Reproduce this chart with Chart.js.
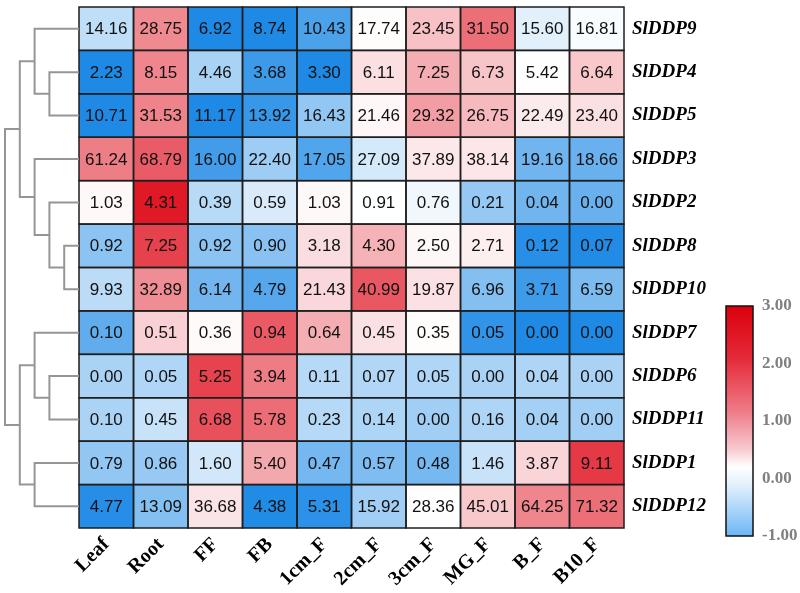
<!DOCTYPE html>
<html>
<head>
<meta charset="utf-8">
<script src="https://cdn.jsdelivr.net/npm/chart.js@4"></script>
<style>
  body { margin: 0; background: #fff; }
  canvas { display: block; }
</style>
</head>
<body>
<canvas id="heat" width="800" height="593"></canvas>
<script>
// gene rows (top to bottom) and tissue columns
var genes = ['SlDDP9', 'SlDDP4', 'SlDDP5', 'SlDDP3', 'SlDDP2', 'SlDDP8',
             'SlDDP10', 'SlDDP7', 'SlDDP6', 'SlDDP11', 'SlDDP1', 'SlDDP12'];
var tissues = ['Leaf', 'Root', 'FF', 'FB', '1cm_F', '2cm_F', '3cm_F', 'MG_F', 'B_F', 'B10_F'];

// expression values, one row per gene
var expr = [
  [14.16, 28.75, 6.92, 8.74, 10.43, 17.74, 23.45, 31.50, 15.60, 16.81],
  [2.23, 8.15, 4.46, 3.68, 3.30, 6.11, 7.25, 6.73, 5.42, 6.64],
  [10.71, 31.53, 11.17, 13.92, 16.43, 21.46, 29.32, 26.75, 22.49, 23.40],
  [61.24, 68.79, 16.00, 22.40, 17.05, 27.09, 37.89, 38.14, 19.16, 18.66],
  [1.03, 4.31, 0.39, 0.59, 1.03, 0.91, 0.76, 0.21, 0.04, 0.00],
  [0.92, 7.25, 0.92, 0.90, 3.18, 4.30, 2.50, 2.71, 0.12, 0.07],
  [9.93, 32.89, 6.14, 4.79, 21.43, 40.99, 19.87, 6.96, 3.71, 6.59],
  [0.10, 0.51, 0.36, 0.94, 0.64, 0.45, 0.35, 0.05, 0.00, 0.00],
  [0.00, 0.05, 5.25, 3.94, 0.11, 0.07, 0.05, 0.00, 0.04, 0.00],
  [0.10, 0.45, 6.68, 5.78, 0.23, 0.14, 0.00, 0.16, 0.04, 0.00],
  [0.79, 0.86, 1.60, 5.40, 0.47, 0.57, 0.48, 1.46, 3.87, 9.11],
  [4.77, 13.09, 36.68, 4.38, 5.31, 15.92, 28.36, 45.01, 64.25, 71.32]
];

// row tree: node 12+ are the merges, in order
var mergeLeft  = [1, 0, 5, 4, 3, 13, 8, 7, 10, 19, 17];
var mergeRight = [2, 12, 6, 14, 15, 16, 9, 18, 11, 20, 21];
var mergeLevel = [2, 3, 1, 2, 3, 4, 2, 3, 3, 4, 5];

// colour key
var keyTicks = [3, 2, 1, 0, -1];
var keyLabels = ['3.00', '2.00', '1.00', '0.00', '-1.00'];

var levelStep = 0.2716;   // one tree level, in column units
var lo = -1, hi = 3;

// row z-score
var zs = expr.map(function(row) {
  var n = row.length;
  var m = row.reduce(function(a, b) { return a + b; }, 0) / n;
  var sd = Math.sqrt(row.reduce(function(a, b) { return a + (b - m) * (b - m); }, 0) / (n - 1));
  return row.map(function(v) { return sd ? (v - m) / sd : 0; });
});

function heatColor(z) {
  z = Math.max(lo, Math.min(hi, z));
  var c;
  if (z < 0) {
    var t = Math.pow(-z / -lo, 1.35);
    c = [255 + (30 - 255) * t, 255 + (138 - 255) * t, 255 + (230 - 255) * t];
  } else {
    var t2 = z / hi;
    c = [255 + (221 - 255) * t2, 255 + (0 - 255) * t2, 255 + (16 - 255) * t2];
  }
  return 'rgb(' + Math.round(c[0]) + ',' + Math.round(c[1]) + ',' + Math.round(c[2]) + ')';
}

// dendrogram polylines
var nodePos = genes.map(function(g, i) { return i; });
var nodeLevel = genes.map(function() { return 0; });
var treeSets = [];
function lx(l) { return -0.5 - l * levelStep; }
for (var k = 0; k < mergeLeft.length; k++) {
  var a = mergeLeft[k], b = mergeRight[k], h = mergeLevel[k];
  treeSets.push({
    data: [
      { x: lx(nodeLevel[a]), y: nodePos[a] },
      { x: lx(h), y: nodePos[a] },
      { x: lx(h), y: nodePos[b] },
      { x: lx(nodeLevel[b]), y: nodePos[b] }
    ],
    showLine: true,
    borderColor: 'rgb(150,150,150)',
    borderWidth: 2,
    pointRadius: 0,
    tension: 0,
    clip: false
  });
  nodePos.push((nodePos[a] + nodePos[b]) / 2);
  nodeLevel.push(h);
}

var heatPlugin = {
  id: 'heat',
  beforeDatasetsDraw: function(chart) {
    var ctx = chart.ctx, xs = chart.scales.x, ys = chart.scales.y;
    ctx.save();
    for (var r = 0; r < expr.length; r++) {
      for (var c = 0; c < tissues.length; c++) {
        var x0 = xs.getPixelForValue(c - 0.5), x1 = xs.getPixelForValue(c + 0.5);
        var y0 = ys.getPixelForValue(r - 0.5), y1 = ys.getPixelForValue(r + 0.5);
        ctx.fillStyle = heatColor(zs[r][c]);
        ctx.fillRect(x0, y0, x1 - x0, y1 - y0);
      }
    }
    ctx.strokeStyle = '#1e1e1e';
    ctx.lineWidth = 1.5;
    for (var r2 = 0; r2 < expr.length; r2++) {
      for (var c2 = 0; c2 < tissues.length; c2++) {
        var a0 = xs.getPixelForValue(c2 - 0.5), a1 = xs.getPixelForValue(c2 + 0.5);
        var b0 = ys.getPixelForValue(r2 - 0.5), b1 = ys.getPixelForValue(r2 + 0.5);
        ctx.strokeRect(a0, b0, a1 - a0, b1 - b0);
      }
    }
    ctx.fillStyle = '#111';
    ctx.font = '17px "Liberation Sans", Arial, sans-serif';
    ctx.textAlign = 'center';
    ctx.textBaseline = 'middle';
    for (var r3 = 0; r3 < expr.length; r3++) {
      for (var c3 = 0; c3 < tissues.length; c3++) {
        ctx.fillText(expr[r3][c3].toFixed(2), xs.getPixelForValue(c3), ys.getPixelForValue(r3) + 1);
      }
    }
    ctx.restore();
  },
  afterDraw: function(chart) {
    // colour key to the right of the gene names
    var ctx = chart.ctx, area = chart.chartArea;
    var left = area.right + 102, w = 27, top = area.top + 299, bottom = area.top + 529;
    var g = ctx.createLinearGradient(0, top, 0, bottom);
    g.addColorStop(0, 'rgb(220,0,14)');
    g.addColorStop(0.22, 'rgb(228,40,55)');
    g.addColorStop(0.45, 'rgb(238,120,132)');
    g.addColorStop(0.62, 'rgb(246,200,206)');
    g.addColorStop(0.7, 'rgb(255,255,255)');
    g.addColorStop(0.78, 'rgb(226,240,252)');
    g.addColorStop(1, 'rgb(108,182,244)');
    ctx.save();
    ctx.fillStyle = g;
    ctx.fillRect(left, top, w, bottom - top);
    ctx.strokeStyle = '#111';
    ctx.lineWidth = 1.5;
    ctx.strokeRect(left, top, w, bottom - top);
    ctx.fillStyle = '#808080';
    ctx.font = 'bold 17px "Liberation Serif", "Times New Roman", serif';
    ctx.textAlign = 'left';
    ctx.textBaseline = 'middle';
    keyTicks.forEach(function(v, i) {
      var y = top + (hi - v) / (hi - lo) * (bottom - top);
      ctx.fillText(keyLabels[i], left + w + 9, y);
    });
    ctx.restore();
  }
};

new Chart(document.getElementById('heat'), {
  type: 'scatter',
  data: { datasets: treeSets },
  options: {
    responsive: false,
    animation: false,
    layout: { padding: { left: 5, top: 7, right: 0, bottom: 0 } },
    plugins: { legend: { display: false }, tooltip: { enabled: false } },
    scales: {
      x: {
        type: 'linear',
        min: -0.5 - 5 * levelStep,
        max: tissues.length - 0.5,
        grid: { display: false, drawTicks: false },
        border: { display: false },
        afterBuildTicks: function(scale) {
          scale.ticks = tissues.map(function(t, i) { return { value: i }; });
        },
        afterFit: function(scale) {
          scale.height = 65;
          scale.paddingLeft = 0;
          scale.paddingRight = 0;
        },
        ticks: {
          autoSkip: false,
          minRotation: 45,
          maxRotation: 45,
          padding: 5,
          color: '#000',
          font: { family: '"Liberation Serif", "Times New Roman", serif', size: 20, weight: 'bold' },
          callback: function(v) { return tissues[v]; }
        }
      },
      y: {
        type: 'linear',
        position: 'right',
        reverse: true,
        min: -0.5,
        max: genes.length - 0.5,
        grid: { display: false, drawTicks: false },
        border: { display: false },
        afterBuildTicks: function(scale) {
          scale.ticks = genes.map(function(g, i) { return { value: i }; });
        },
        afterFit: function(scale) {
          scale.width = 176;
          scale.paddingTop = 0;
          scale.paddingBottom = 0;
        },
        ticks: {
          autoSkip: false,
          padding: 8,
          color: '#000',
          font: { family: '"Liberation Serif", "Times New Roman", serif', size: 19, weight: 'bold', style: 'italic' },
          callback: function(v) { return genes[v]; }
        }
      }
    }
  },
  plugins: [heatPlugin]
});
</script>
</body>
</html>
